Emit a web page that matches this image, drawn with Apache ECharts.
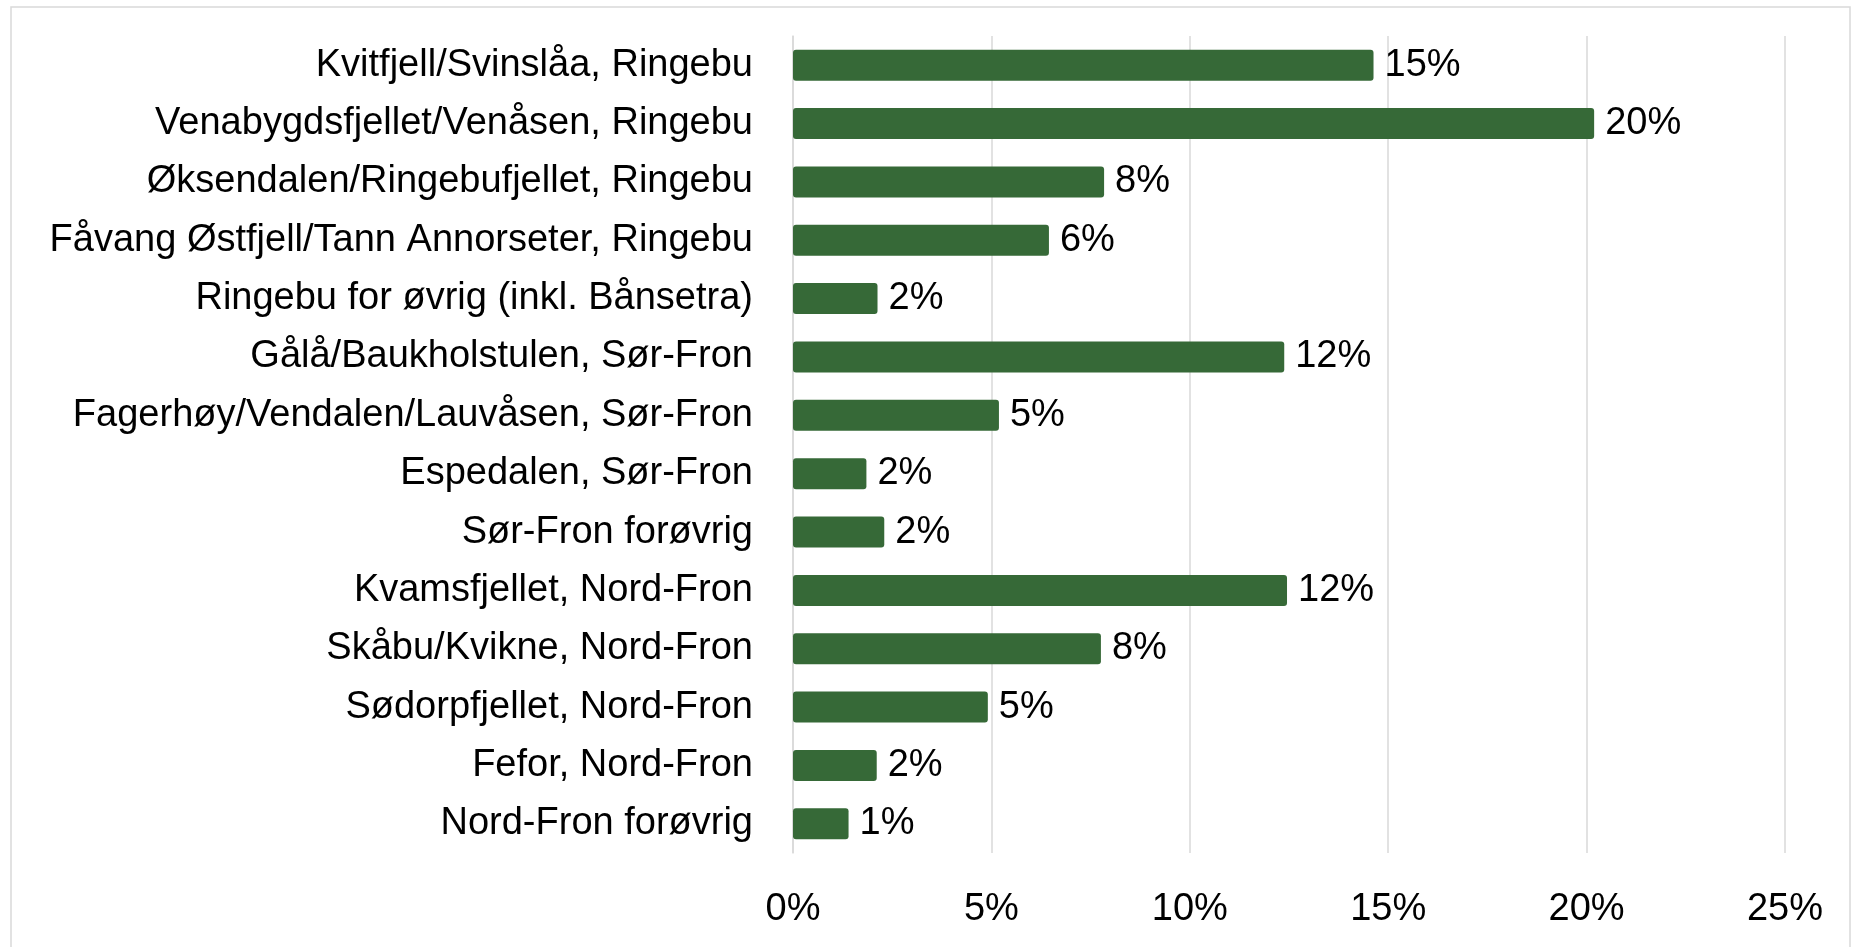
<!DOCTYPE html>
<html>
<head>
<meta charset="utf-8">
<script src="https://cdn.jsdelivr.net/npm/echarts@6/dist/echarts.min.js"></script>
<style>
html,body{margin:0;padding:0;background:#fff;}
#chart{width:1855px;height:947px;}
</style>
</head>
<body>
<div id="chart"></div>
<script>
const categories = [
  "Kvitfjell/Svinslåa, Ringebu",
  "Venabygdsfjellet/Venåsen, Ringebu",
  "Øksendalen/Ringebufjellet, Ringebu",
  "Fåvang Østfjell/Tann Annorseter, Ringebu",
  "Ringebu for øvrig (inkl. Bånsetra)",
  "Gålå/Baukholstulen, Sør-Fron",
  "Fagerhøy/Vendalen/Lauvåsen, Sør-Fron",
  "Espedalen, Sør-Fron",
  "Sør-Fron forøvrig",
  "Kvamsfjellet, Nord-Fron",
  "Skåbu/Kvikne, Nord-Fron",
  "Sødorpfjellet, Nord-Fron",
  "Fefor, Nord-Fron",
  "Nord-Fron forøvrig"
];
const shares = [14.63, 20.19, 7.84, 6.45, 2.13, 12.38, 5.19, 1.85, 2.30, 12.45, 7.76, 4.91, 2.11, 1.40];
const xTicks = [0, 5, 10, 15, 20, 25];

const FONT = "'Liberation Sans', Arial, sans-serif";
const chart = echarts.init(document.getElementById('chart'));
chart.setOption({
  animation: false,
  backgroundColor: '#ffffff',
  graphic: [{
    type: 'rect',
    shape: {x: 11, y: 7, width: 1839, height: 950},
    style: {fill: 'none', stroke: '#D9D9D9', lineWidth: 1.5},
    silent: true
  }],
  grid: {left: 793, right: 70, top: 36, bottom: 94, containLabel: false},
  xAxis: {
    type: 'value',
    min: xTicks[0],
    max: xTicks[xTicks.length - 1],
    interval: 5,
    axisLine: {show: false},
    axisTick: {show: false},
    splitLine: {show: true, lineStyle: {color: '#D9D9D9', width: 1.5}},
    axisLabel: {
      formatter: v => v + '%',
      fontFamily: FONT, fontSize: 38, color: '#000', margin: 38
    }
  },
  yAxis: {
    type: 'category',
    inverse: true,
    data: categories,
    axisLine: {show: true, lineStyle: {color: '#D9D9D9', width: 1.5}},
    axisTick: {show: false},
    axisLabel: {fontFamily: FONT, fontSize: 38, color: '#000', margin: 40}
  },
  series: [{
    type: 'bar',
    data: shares,
    barWidth: 31,
    itemStyle: {color: '#366937', borderRadius: 3},
    label: {
      show: true,
      position: 'right',
      distance: 11,
      formatter: p => Math.round(p.value) + '%',
      fontFamily: FONT, fontSize: 38, color: '#000'
    }
  }]
});
</script>
</body>
</html>
